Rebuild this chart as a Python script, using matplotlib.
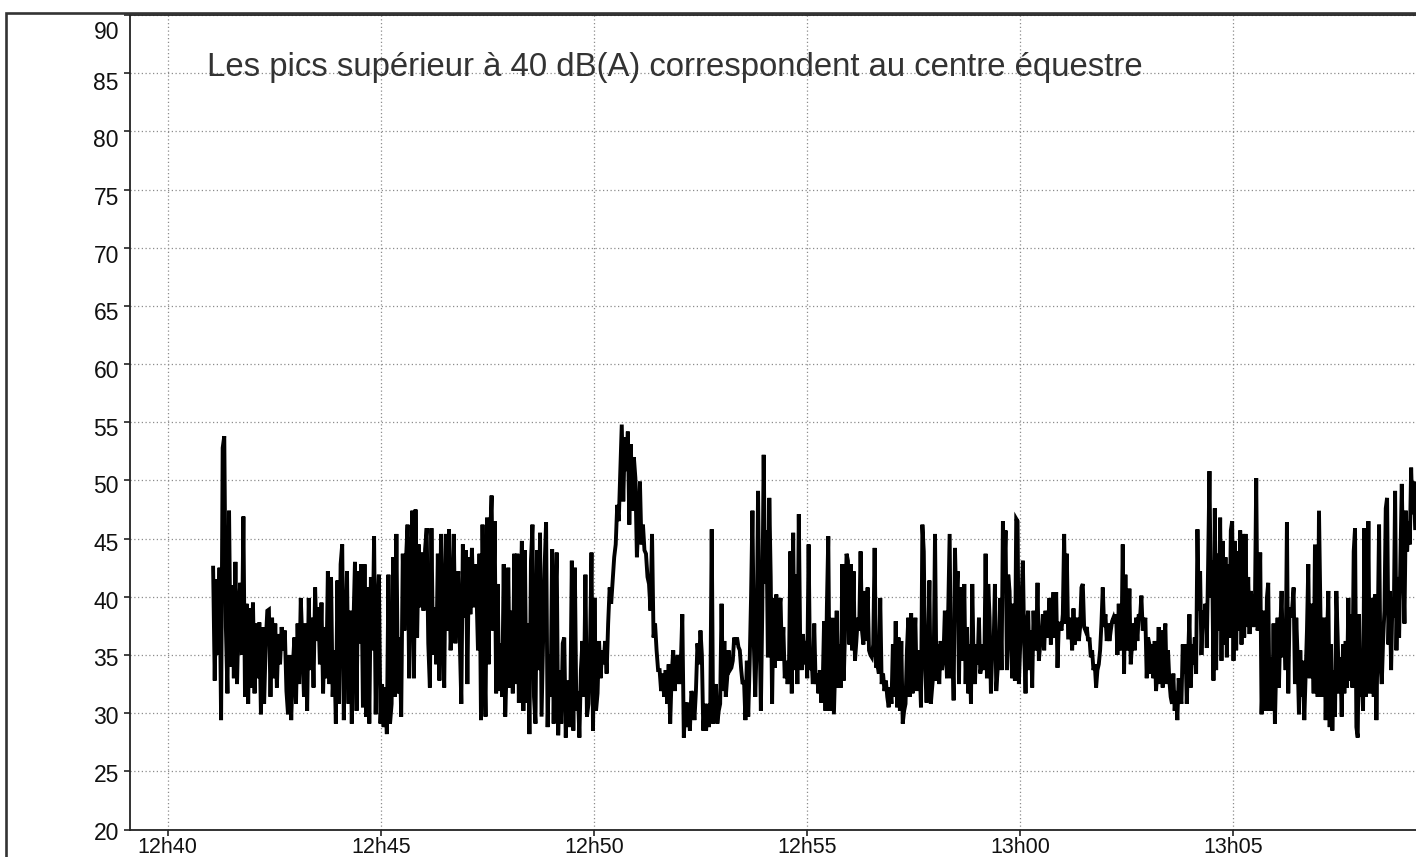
import matplotlib
matplotlib.use('Agg')
import matplotlib.pyplot as plt
import matplotlib.dates as mdates
import matplotlib.transforms as mtransforms
from matplotlib.patches import Rectangle
import numpy as np
import pandas as pd

plt.rcParams['font.family'] = ['Liberation Sans', 'DejaVu Sans']

# ── Data (dB(A), segment by segment) ─────────────────────────────────────────

seg_bounds = [
    ("12:41:04", "12:46:45"),
    ("12:46:47", "12:52:30"),
    ("12:52:32", "12:58:14"),
    ("12:58:17", "13:03:45"),
    ("13:03:47", "13:09:16"),
]

seg_a = [42.5, 32.8, 41.5, 35, 42.5, 29.4, 52.8, 53.8, 37.4, 31.7, 47.4, 34, 41, 33, 43, 32.5, 38.8, 41.2,
         35, 46.9, 31.4, 39.4, 30.8, 39, 32.2, 39.5, 31.7, 37.7, 33, 37.8, 29.9, 37.4, 30.8, 36, 38.8, 38.9,
         31.4, 38.2, 33, 37.7, 32.2, 36.8, 34.2, 37.4, 35.4, 37.1, 31.9, 29.9, 35, 29.4, 34, 36.5, 30.8, 37.7,
         32.5, 39.9, 36, 31.4, 37.7, 30.2, 39.9, 33.7, 38.2, 32.2, 40.8, 36.2, 39.1, 34.2, 39.5, 31.7, 37.4,
         33, 42.2, 32.5, 41.7, 31.4, 35.4, 29.1, 41.4, 30.8, 42.8, 44.5, 29.4, 36.5, 42.2, 30.8, 38.8, 29.1,
         37.4, 43, 30.2, 42.2, 36, 42.8, 30.5, 42.8, 29.7, 40.8, 29.1, 41.7, 35.4, 45.2, 29.9, 38.8, 41.9,
         29.1, 32.5, 28.8, 32.2, 28.2, 41.9, 29.1, 30.8, 43.4, 31.4, 45.4, 31.7, 36.5, 29.7, 43.7, 37.1, 43.1,
         46.2, 33, 42.5, 47.4, 33, 47.5, 36.5, 44.5, 39.1, 43.8, 38.8, 44.1, 45.9, 36, 32.2, 45.9, 35, 39.1,
         34.2, 43.7, 32.8, 45.4, 38.2, 32.2, 45.4, 37.1, 45.8, 35.4, 38.8, 45.4, 36]

seg_b = [40, 42.2, 36, 30.8, 44.5, 38.2, 44, 32.5, 43.4, 38.5, 44.2, 39.1, 42.8, 40.5, 35.4, 43.7, 29.4,
         46.2, 36, 29.7, 46.8, 34.2, 45.1, 48.7, 37.1, 46.5, 31.7, 41.1, 31.9, 36, 31.4, 42.8, 29.7, 34.2,
         42.5, 32.2, 38.8, 31.7, 43.7, 32.5, 43.7, 30.9, 39.4, 44.8, 30.2, 44, 30.9, 37.7, 28.2, 43.1, 46.2,
         31.4, 29.1, 44, 33.7, 45.5, 29.7, 36.2, 42.5, 46.4, 28.8, 35, 31.4, 44.1, 29.1, 38.8, 43.8, 28.1,
         33.7, 29.1, 36, 36.5, 27.9, 32.8, 28.8, 30.8, 43.1, 28.5, 42.5, 30.2, 31.9, 27.9, 33.7, 36.2, 31.4,
         41.9, 29.7, 30.8, 35.4, 43.8, 28.5, 39.9, 30.2, 31.7, 36.2, 33, 35.4, 34.2, 36.2, 33.4, 37.7, 40.8,
         39.4, 41.4, 43.4, 44.5, 47.9, 46.5, 50.8, 54.8, 48.2, 53.7, 50.8, 54.2, 46.2, 53.1, 47.4, 52, 50.2,
         43.4, 46.5, 49.9, 44.5, 46.2, 44, 43.7, 41.7, 41.1, 38.8, 45.4, 36.5, 37.7, 35.4, 33.7, 33.7, 31.9,
         33.4, 31.4, 33.7, 30.8, 34.2, 29.1, 33.4, 35.4, 31.9, 34.2, 35, 32.5, 34.2, 38.5, 27.9, 30.9, 28.8,
         30.9, 28.5, 31.9, 31.4, 29.4, 31.9, 36, 34.2, 37.1]

seg_c = [35, 28.5, 30.8, 28.5, 30.8, 28.8, 30.9, 45.8, 29.1, 30.2, 32.5, 29.1, 30.2, 30.8, 39.4, 31.9, 36.2,
         31.4, 33, 35.4, 33.7, 33.9, 34.5, 36.5, 35.9, 36.5, 35.7, 35.4, 33.7, 32.5, 32.8, 29.4, 34.5, 29.7,
         34.2, 39.9, 47.4, 35.9, 31.4, 35.9, 49.1, 38.2, 30.2, 38.8, 52.2, 41.1, 45.7, 34.8, 48.5, 41.7, 30.8,
         39.9, 33.9, 40.2, 34.5, 38.8, 39.9, 34.5, 37.4, 33, 34.5, 32.5, 33.7, 43.9, 31.7, 45.5, 33.7, 41.9,
         32.5, 47.1, 35.9, 33.7, 36.8, 34.2, 36.2, 33, 44.5, 33.7, 35, 32.5, 37.7, 32.5, 33.4, 31.7, 33.7,
         30.9, 32.2, 37.9, 30.2, 39.1, 45.2, 30.2, 34.2, 38.2, 29.9, 34.2, 38.8, 32.2, 35.9, 32.2, 42.8, 32.8,
         37.4, 43.7, 43.1, 35.9, 42.8, 35.4, 42.2, 34.5, 36.2, 38.2, 37.1, 43.9, 37.1, 35.9, 40.5, 36.2, 40.8,
         35.4, 35, 34.8, 35.9, 44.2, 33.9, 34.2, 33.4, 39.9, 32.5, 33.4, 31.9, 32.8, 31.4, 30.5, 32.2, 30.8,
         35.9, 31.4, 37.9, 30.5, 36.5, 30.2, 36.2, 29.1, 30.2, 30.8, 35.4, 38.2, 31.4, 38.6, 31.7, 35.4, 38.2,
         31.9, 35.4, 34.2, 30.5, 46.2, 43.9, 33.7, 30.9, 35, 41.4, 30.8, 32.2, 33.7, 45.4, 32.8, 35.9, 32.5,
         36.2, 33.7, 34.8, 38.8]

seg_d = [33, 39.1, 45.4, 33, 35.9, 31.1, 44.2, 39.4, 42.2, 32.5, 40.8, 37.1, 34.5, 41.1, 32.5, 37.4, 31.7,
         35.9, 30.8, 41.1, 34.5, 32.5, 35.9, 34.2, 38.2, 33.4, 34.2, 35.9, 33.7, 43.7, 33, 41.1, 38.2, 31.7,
         35.4, 35.7, 41.1, 31.9, 33.7, 35.4, 39.9, 33.7, 46.5, 41.7, 45.7, 33.7, 41.9, 40.5, 35.9, 33, 39.4,
         32.8, 46.7, 46.5, 32.5, 35.9, 39.7, 43.1, 35.9, 31.7, 37.7, 38.8, 33.7, 37.1, 32.2, 38.8, 35.4, 35.9,
         41.2, 34.5, 35.9, 36.5, 38.5, 35.4, 38.8, 36.5, 37.7, 39.9, 35.9, 38.2, 40.4, 36.5, 40.4, 33.9, 37.7,
         37.7, 37.1, 38.5, 45.4, 37.7, 43.7, 36.5, 36.5, 38.2, 35.4, 39, 35.9, 37.4, 38.2, 36.2, 37.4, 40.8,
         41.1, 37.4, 37.1, 37.4, 36.2, 36.5, 34.8, 35.4, 33.7, 34.2, 32.2, 33.7, 34.2, 35.4, 37.7, 40.8, 37.4,
         38.5, 36.2, 37.7, 36.2, 37.1, 37.9, 38.2, 37.7, 38.5, 35, 39.4, 35.9, 35.4, 44.5, 33.4, 41.9, 35.4,
         35.9, 40.7, 34.2, 35.9, 37.7, 35.4, 38.2, 36.2, 38.5, 38.2, 40.1, 37.1, 37.7, 38.2, 33, 36.5, 35.9,
         33.4, 35.9, 33, 36.2, 31.9, 33.7, 37.4, 32.5, 37.1, 32.2, 35.9, 37.7, 32.5, 35.4, 32.8, 31.4, 30.8,
         33.4, 30.2, 31.9, 29.4, 33, 31.7]

seg_e = [30.8, 35.9, 33.4, 35.9, 30.8, 34.5, 38.5, 32.2, 35.9, 34.2, 36.5, 33.4, 45.8, 38.8, 42.2, 35, 38.8,
         37.4, 39.4, 35.6, 42.8, 50.8, 39.9, 43.1, 32.8, 47.6, 33.7, 43.7, 37.1, 46.8, 34.5, 44.8, 35.9, 43.4,
         34.8, 42.8, 36.5, 45.7, 46.5, 34.5, 44.8, 35.4, 43.9, 37.1, 45.7, 35.9, 45.4, 36.5, 45.4, 37.4, 41.7,
         36.8, 40.5, 39.1, 37.4, 38.8, 50.2, 37.1, 37.9, 43.8, 29.9, 33.7, 38.8, 30.2, 39.9, 41.2, 30.2, 34.8,
         30.2, 37.7, 29.1, 34.2, 38.2, 32.2, 37.1, 40.5, 34.8, 37.7, 33.7, 46.4, 31.7, 39.1, 38.2, 39.1, 40.8,
         32.5, 38.2, 34.8, 29.9, 35.4, 31.4, 34.5, 29.4, 33.4, 37.1, 42.8, 33, 39.4, 37.4, 31.7, 44.5, 37.7,
         31.4, 47.4, 39.1, 31.4, 35, 38.2, 29.4, 36.2, 40.5, 28.8, 35.9, 28.5, 33.7, 29.7, 40.5, 36.5, 31.7,
         34.8, 29.7, 35.9, 31.7, 36.2, 32.2, 39.9, 32.8, 38.5, 32.2, 43.9, 45.9, 28.8, 27.9, 38.5, 31.4, 33,
         30.2, 45.9, 31.4, 34.2, 46.5, 31.7, 35.9, 39.9, 31.4, 40.2, 29.4, 37.4, 46.2, 34.2, 32.5, 36.2, 38.8,
         47.6, 48.5, 35.9, 40.5, 33.7, 39.9, 38.2, 49.1, 35.4, 41.7, 36.5, 43.4, 49.7, 42.8, 37.7, 47.4, 43.9,
         46.5, 44.5, 51.1, 47.1, 49.9, 45.9]

segments = [seg_a, seg_b, seg_c, seg_d, seg_e]

title_text = "Les pics supérieur à 40 dB(A) correspondent au centre équestre"
y_ticks = [20, 25, 30, 35, 40, 45, 50, 55, 60, 65, 70, 75, 80, 85, 90]

# ── Build the time series (regular sampling inside each read segment) ───────
day = "2020-06-01 "
times, levels = [], []
for (t0, t1), vals in zip(seg_bounds, segments):
    ts = pd.date_range(day + t0, day + t1, periods=len(vals))
    times.extend(ts)
    levels.extend(vals)
times = pd.DatetimeIndex(times)
levels = np.array(levels)

# ── Figure ───────────────────────────────────────────────────────────────────
W, H = 1416, 857
fig = plt.figure(figsize=(W / 100, H / 100), dpi=100)
fig.patch.set_facecolor('white')

ax_left, ax_top, ax_bottom = 130, 15, 829.5
x_right = 1439.3  # right end of the axis sits just past the picture edge
ax = fig.add_axes([ax_left / W, 1 - ax_bottom / H, (x_right - ax_left) / W, (ax_bottom - ax_top) / H])

ax.plot(times, levels, color='black', linewidth=2.8, solid_joinstyle='miter', zorder=3)

ax.set_xlim(pd.Timestamp(day + "12:39:07"), pd.Timestamp(day + "13:09:50"))
ax.set_ylim(20, 90)
ax.set_yticks(y_ticks)
ax.xaxis.set_major_locator(mdates.MinuteLocator(byminute=range(0, 60, 5)))
ax.xaxis.set_major_formatter(mdates.DateFormatter('%Hh%M'))

ax.grid(True, linestyle=(0, (1, 2)), color='#8c8c8c', linewidth=0.9, zorder=0)
ax.tick_params(axis='both', direction='out', length=4, width=1.2, color='#222222',
               labelcolor='#111111')
ax.tick_params(axis='y', pad=4, labelsize=16.5)
ax.tick_params(axis='x', pad=1.5, labelsize=15.5)
for side in ['left', 'bottom', 'top']:
    ax.spines[side].set_color('#222222')
    ax.spines[side].set_linewidth(1.3)
ax.spines['right'].set_visible(False)

# y labels drift a little below their ticks towards the top in the original
for lab, v in zip(ax.get_yticklabels(), y_ticks):
    dy = -15 if v == 90 else -(1 + (v - 20) * 0.1)
    lab.set_transform(lab.get_transform() + mtransforms.ScaledTranslation(0, dy / 100, fig.dpi_scale_trans))

# outer frame
fig.add_artist(Rectangle((6 / W, -0.2), 2.0, 1.2 - 13 / H, transform=fig.transFigure,
                         fill=False, edgecolor='#333333', linewidth=1.9))

fig.text(207 / W, 1 - 76 / H, title_text, ha='left', va='baseline',
         fontsize=23.7, color='#333333')

fig.savefig('out.png', dpi=100, facecolor='white')
